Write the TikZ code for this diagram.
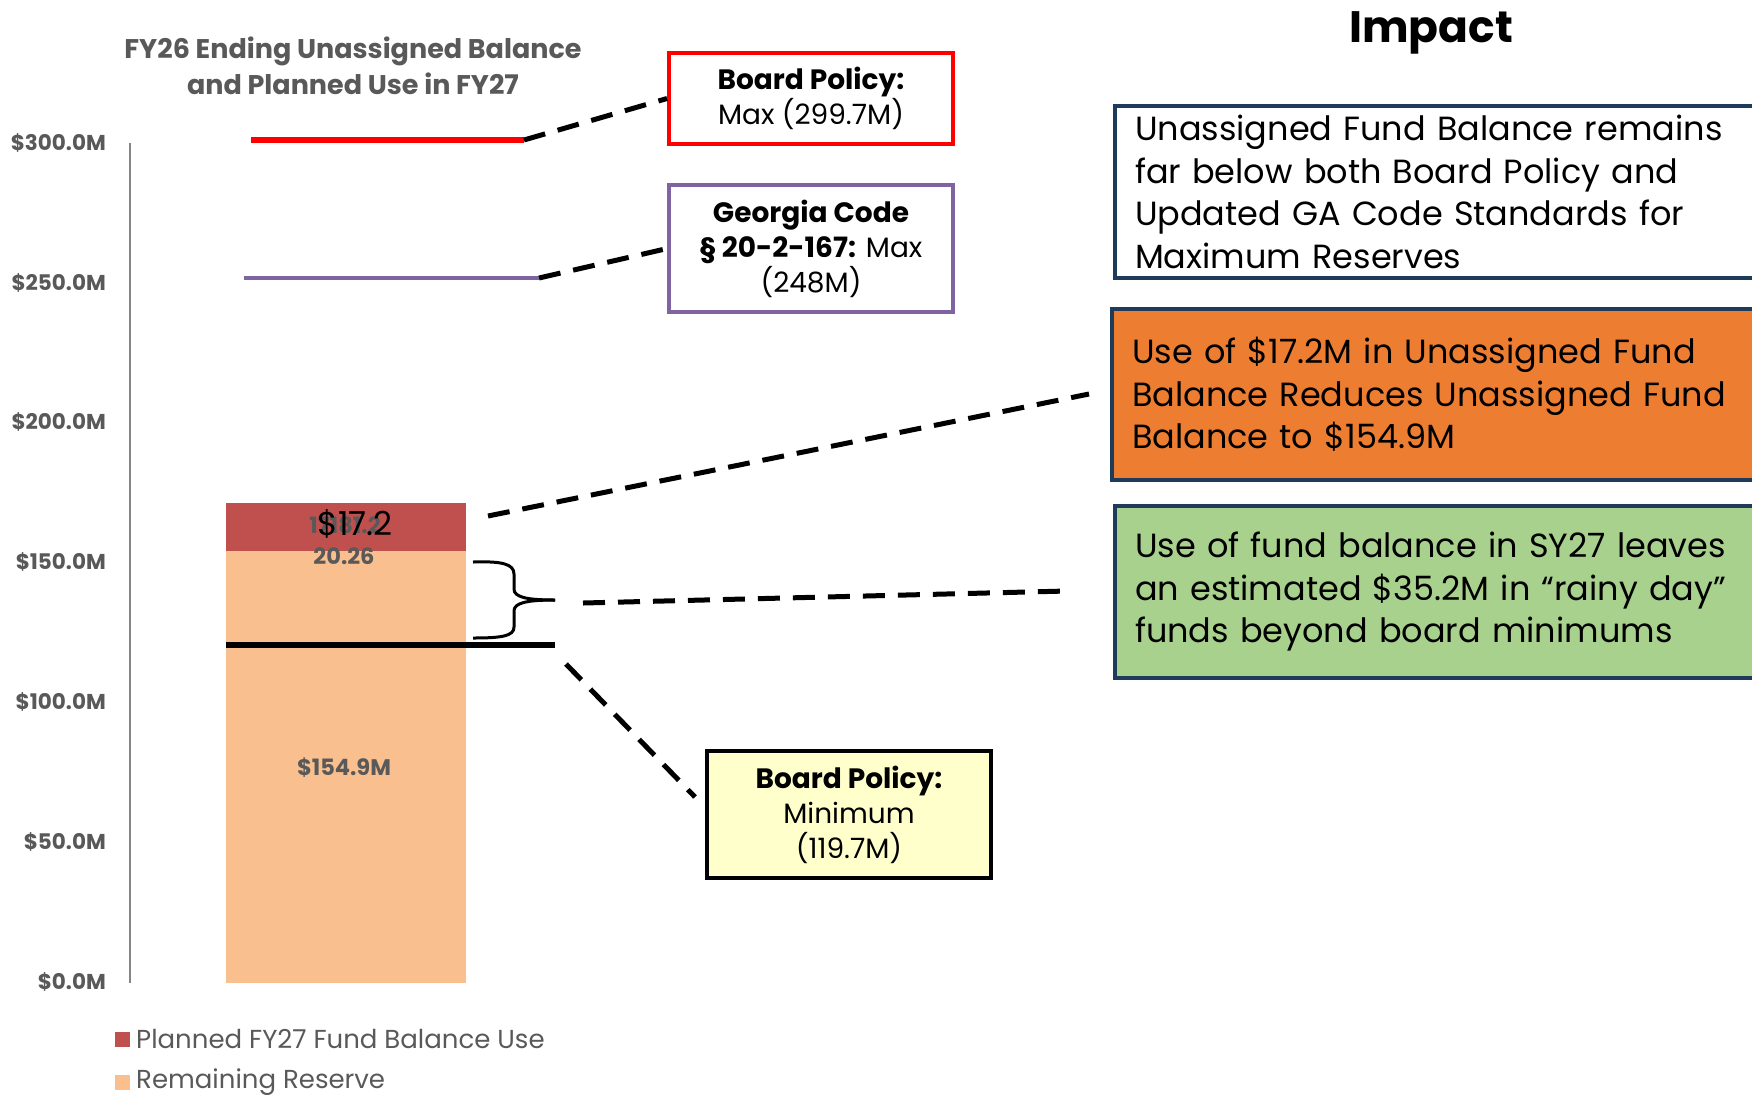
\documentclass[tikz,border=0pt]{standalone}
\usepackage{fontspec}
\setmainfont{Poppins}
\definecolor{bpred}{HTML}{FF0000}
\definecolor{gapurple}{HTML}{8064A2}
\definecolor{navy}{HTML}{1F3B5A}
\definecolor{orangebox}{HTML}{ED7D31}
\definecolor{greenbox}{HTML}{A9D18E}
\definecolor{yellowbox}{HTML}{FFFFCC}
\definecolor{barred}{HTML}{C0504D}
\definecolor{barpeach}{HTML}{F9BF8F}
\definecolor{txtgray}{HTML}{595959}
\definecolor{axisgray}{HTML}{868686}
\begin{document}
\begin{tikzpicture}[x=1pt,y=-1pt,
  dashconn/.style={line width=5pt, dash pattern=on 22pt off 13pt},
  smallbox/.style={rectangle, align=center, inner sep=0pt, font=\fontsize{28}{35}\selectfont},
  impbox/.style={rectangle, draw=navy, line width=4pt, align=left, inner ysep=0pt, inner xsep=20pt,
     minimum width=700pt, text width=660pt, font=\fontsize{33.5}{42.5}\selectfont},
  axislbl/.style={anchor=east, inner sep=0pt, text=txtgray, font=\fontsize{21.5}{23}\selectfont\bfseries},
  barlbl/.style={inner sep=0pt, text=txtgray, font=\fontsize{22.5}{24}\selectfont\bfseries},
  legendlbl/.style={anchor=west, inner sep=0pt, text=txtgray, font=\fontsize{26}{28}\selectfont}]
\useasboundingbox[fill=white] (0,0) rectangle (1752,1096);

% title
\node[align=center, text=txtgray, font=\fontsize{27}{36}\selectfont\bfseries] (title) at (353,66)
  {FY26 Ending Unassigned Balance\\and Planned Use in FY27};
\node[font=\fontsize{44}{50}\selectfont\bfseries] (impact) at (1431,33) {Impact};

% axis
\coordinate (axtop) at (130,143);
\coordinate (axbot) at (130,983);
\draw[axisgray, line width=2pt] (axtop) -- (axbot);
\node[axislbl] (l300) at (106,143) {\$300.0M};
\node[axislbl] (l250) at (106,283) {\$250.0M};
\node[axislbl] (l200) at (106,422) {\$200.0M};
\node[axislbl] (l150) at (106,562) {\$150.0M};
\node[axislbl] (l100) at (106,702) {\$100.0M};
\node[axislbl] (l50) at (106,842) {\$50.0M};
\node[axislbl] (l0) at (106,982) {\$0.0M};

% bars
\fill[barpeach] (226,551) rectangle (466,983);
\fill[barred] (226,503) rectangle (466,551);
\node[barlbl] (v1549) at (344,768) {\$154.9M};
\node[barlbl] (v2026) at (344,556) {20.26};
\node[barlbl] (vover) at (345,525) {17181.2};
\node[inner sep=0pt, font=\fontsize{33}{35}\selectfont] (v172) at (355,524) {\$17.2};

% limit lines
\coordinate (rl1) at (251,140);
\coordinate (rl2) at (524,140);
\draw[bpred, line width=5.5pt] (rl1) -- (rl2);
\coordinate (pl1) at (244,278);
\coordinate (pl2) at (539,278);
\draw[gapurple, line width=4.5pt] (pl1) -- (pl2);
\coordinate (ml1) at (226,645);
\coordinate (ml2) at (555,645);
\draw[black, line width=5.5pt] (ml1) -- (ml2);

% brace
\draw[line width=3pt] (473,562) .. controls (502,561) and (514,564) .. (514,574) -- (514,589)
  .. controls (514,597) and (526,600) .. (555,600);
\draw[line width=3pt] (555,600) .. controls (526,600) and (514,603) .. (514,611) -- (514,627)
  .. controls (514,636) and (502,638) .. (473,638);
\coordinate (bracetip) at (555,600);

% left boxes
\node[smallbox, draw=bpred, line width=4pt, minimum width=284pt, minimum height=91pt] (bpmax) at (811,98.5)
  {\textbf{Board Policy:}\\Max (299.7M)};
\node[smallbox, draw=gapurple, line width=3.5pt, minimum width=284pt, minimum height=127pt] (gacode) at (811,248.5)
  {\textbf{Georgia Code}\\\textbf{§ 20-2-167:} Max\\(248M)};
\node[smallbox, draw=black, fill=yellowbox, line width=3.5pt, minimum width=284pt, minimum height=127pt] (bpmin) at (849,814.5)
  {\textbf{Board Policy:}\\Minimum\\(119.7M)};

% impact boxes
\node[impbox, fill=white, minimum height=172pt] (imp1) at (1465,192)
  {Unassigned Fund Balance remains\\far below both Board Policy and\\Updated GA Code Standards for\\Maximum Reserves};
\node[impbox, fill=orangebox, minimum height=171pt] (imp2) at (1462,394.5)
  {Use of \$17.2M in Unassigned Fund\\Balance Reduces Unassigned Fund\\Balance to \$154.9M};
\node[impbox, fill=greenbox, minimum height=172pt] (imp3) at (1465,592)
  {Use of fund balance in SY27 leaves\\an estimated \$35.2M in “rainy day”\\funds beyond board minimums};

% connectors
\draw[dashconn] (rl2) -- (bpmax.west);
\draw[dashconn] (pl2) -- (gacode.west);
\coordinate (c2s) at (488,516);
\coordinate (c2e) at (1089,394);
\draw[dashconn] (c2s) -- (c2e);
\coordinate (c3s) at (583,603);
\coordinate (c3e) at (1067,591);
\draw[dashconn] (c3s) -- (c3e);
\coordinate (c4s) at (566,664);
\coordinate (c4e) at (695,797);
\draw[dashconn] (c4s) -- (c4e);

% legend
\fill[barred] (115,1032) rectangle (130,1047);
\fill[barpeach] (115,1075) rectangle (130,1090);
\node[legendlbl] (leg1) at (136,1039) {Planned FY27 Fund Balance Use};
\node[legendlbl] (leg2) at (136,1082) {Remaining Reserve};
\end{tikzpicture}
\end{document}
